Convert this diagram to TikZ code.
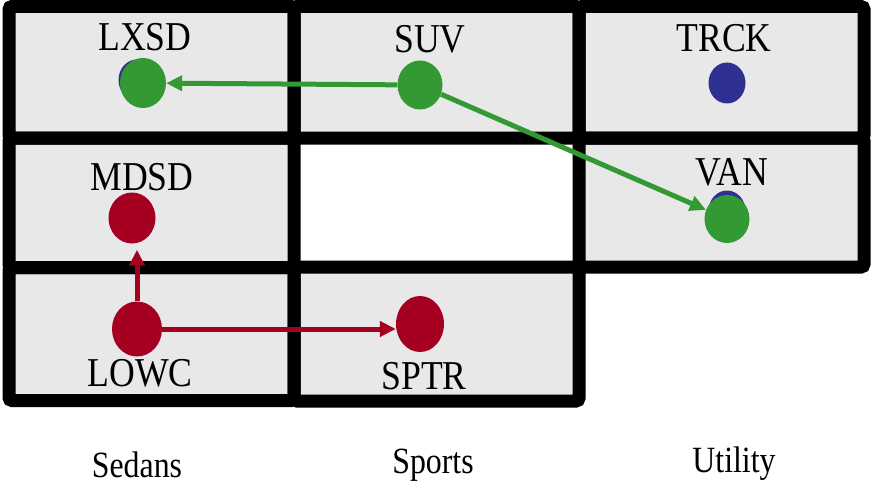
\documentclass[tikz,border=0pt]{standalone}
\usepackage{fontspec}
\usepackage{graphicx}
\setmainfont{Liberation Serif}
\usetikzlibrary{arrows.meta,shapes.geometric}
\definecolor{cellgray}{HTML}{E8E8E8}
\definecolor{dgreen}{HTML}{339933}
\definecolor{dred}{HTML}{A50021}
\definecolor{dblue}{HTML}{2E3192}
\newcommand\celltxt[1]{\scalebox{0.87}[1]{#1}}
\newcommand\axtxt[1]{\scalebox{0.86}[1]{#1}}
\begin{document}
\begin{tikzpicture}[x=1pt,y=-1pt,
  cellfill/.style={fill=cellgray},
  cellline/.style={draw=black,line width=13pt,rounded corners=3pt},
  lbl/.style={anchor=base,inner sep=0pt,font=\fontsize{41}{41}\selectfont},
  axislbl/.style={anchor=base,inner sep=0pt,font=\fontsize{37}{37}\selectfont},
  dot/.style={ellipse,inner sep=0pt,draw=none},
  bluedot/.style={dot,fill=dblue,minimum width=37pt,minimum height=41pt},
  garrow/.style={draw=dgreen,line width=5pt,-{Triangle[length=16pt,width=15pt]}},
  rarrow/.style={draw=dred,line width=5pt,-{Triangle[length=16pt,width=15pt]}}]
\useasboundingbox (0,0) rectangle (871,487);
% cell fills
\foreach \a/\b/\c/\d in {9/6.5/294/138, 294/6.5/579/138, 579/6.5/864/138,
  9/138/294/267.5, 579/138/864/267, 9/267.5/294/400.5, 294/267/579/401}{
  \fill[cellfill] (\a,\b) rectangle (\c,\d);
}
% cell borders
\foreach \a/\b/\c/\d in {9/6.5/294/138, 294/6.5/579/138, 579/6.5/864/138,
  9/138/294/267.5, 579/138/864/267, 9/267.5/294/400.5, 294/267/579/401}{
  \draw[cellline] (\a,\b) rectangle (\c,\d);
}
% labels
\node[lbl] (tlxsd) at (145,51) {\celltxt{LXSD}};
\node[lbl] (tsuv) at (430,53) {\celltxt{SUV}};
\node[lbl] (ttrck) at (724,52) {\celltxt{TRCK}};
\node[lbl] (tvan) at (732,185) {\celltxt{VAN}};
\node[lbl] (tmdsd) at (142,190) {\celltxt{MDSD}};
\node[lbl] (tlowc) at (140,386) {\celltxt{LOWC}};
\node[lbl] (tsptr) at (424,389) {\celltxt{SPTR}};
\node[axislbl] (sedans) at (137,477) {\axtxt{Sedans}};
\node[axislbl] (sports) at (433,473) {\axtxt{Sports}};
\node[axislbl] (utility) at (734,472) {\axtxt{Utility}};
% dots
\node[bluedot] (lxsdb) at (137,80) {};
\node[dot,fill=dgreen,minimum width=46pt,minimum height=50pt] (lxsd) at (143,83) {};
\node[dot,fill=dgreen,minimum width=45pt,minimum height=49pt] (suv) at (420,85) {};
\node[bluedot] (trck) at (727,83) {};
\node[bluedot] (vanb) at (727,211) {};
\node[dot,fill=dgreen,minimum width=45pt,minimum height=48pt] (van) at (727,219) {};
\node[dot,fill=dred,minimum width=47pt,minimum height=51pt] (mdsd) at (132,218) {};
\node[dot,fill=dred,minimum width=50pt,minimum height=55pt] (lowc) at (137,329) {};
\node[dot,fill=dred,minimum width=48pt,minimum height=56pt] (sptr) at (420,324) {};
% connectors
\draw[garrow] (suv) -- (lxsd);
\draw[garrow] (suv) -- (van);
\draw[rarrow,shorten >=6pt] (lowc.north) -- (lowc.north |- mdsd.south);
\draw[rarrow] (lowc.east) -- (lowc.east -| sptr.west);
\end{tikzpicture}
\end{document}
